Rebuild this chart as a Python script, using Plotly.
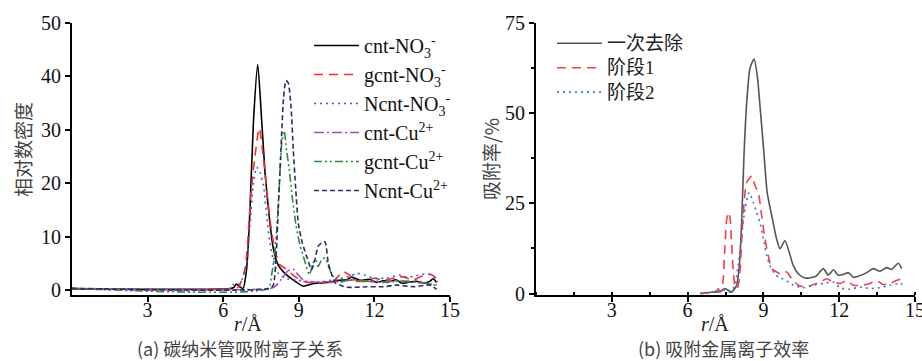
import plotly.graph_objects as go

W, H = 922, 361

# ---------------- Panel (a) data ----------------
cnt_no3_x = [0, 6.2, 6.4, 6.53, 6.65, 6.79, 6.93, 7.06, 7.2, 7.37, 7.53, 7.66, 7.82, 7.98, 8.18, 8.45, 8.77, 9.18, 9.5, 9.71, 9.9, 10.24, 10.6, 10.9, 11.1, 11.43, 11.8, 12.1, 12.35, 12.6, 12.85, 13.1, 13.4, 13.68, 13.95, 14.2, 14.33, 14.47]
cnt_no3_y = [0.2, 0.2, 0.4, 1.1, 0.6, 0.3, 4, 14.7, 31.5, 42.2, 31.5, 22, 14, 8, 4.7, 3.1, 1.9, 0.7, 1.1, 1.25, 1.3, 1.5, 1.8, 1.9, 2.4, 1.8, 2.0, 1.4, 1.7, 1.6, 1.9, 1.25, 1.5, 1.6, 1.3, 1.6, 2.1, 1.4]

gcnt_no3_x = [0, 6.3, 6.6, 6.87, 6.97, 7.1, 7.26, 7.43, 7.6, 7.73, 7.86, 8.05, 8.25, 8.45, 8.85, 9.2, 9.6, 10.0, 10.4, 10.75, 11.0, 11.3, 11.6, 12.0, 12.3, 12.6, 13.0, 13.26, 13.5, 13.8, 14.05, 14.25, 14.35, 14.5]
gcnt_no3_y = [0.2, 0.2, 0.5, 4, 9, 18, 25, 30.3, 24.7, 18.5, 13, 7.4, 4.7, 4.1, 2.5, 1.6, 1.3, 1.5, 1.8, 3.4, 2.8, 1.6, 1.8, 2.2, 1.9, 2.0, 2.5, 2.3, 1.8, 2.4, 2.8, 2.9, 2.6, 2.0]

ncnt_no3_x = [0, 6.2, 6.4, 6.67, 6.93, 7.06, 7.2, 7.33, 7.46, 7.6, 7.73, 7.86, 7.99, 8.19, 8.45, 9.0, 9.5, 10.0, 10.5, 11.0, 11.3, 11.6, 12.0, 12.5, 12.8, 13.0, 13.3, 13.6, 14.0, 14.3, 14.5]
ncnt_no3_y = [0.2, 0.2, 1.0, 1.2, 5, 12, 20, 23, 22, 19.5, 13.5, 8.6, 5.6, 3.1, 2.2, 1.8, 1.5, 1.6, 2.0, 2.5, 3.1, 2.8, 2.2, 2.2, 2.6, 2.8, 2.4, 2.6, 3.0, 2.8, 1.5]

cnt_cu_x = [0, 7.9, 8.12, 8.32, 8.58, 8.78, 8.98, 9.25, 9.44, 9.97, 10.6, 11.3, 11.8, 12.35, 12.8, 13.28, 13.94, 14.47]
cnt_cu_y = [0.3, 0.3, 0.9, 2.1, 3.6, 3.9, 2.8, 1.6, 1.6, 1.3, 1.6, 1.9, 1.6, 1.4, 1.7, 1.6, 1.3, 0.9]

gcnt_cu_x = [0, 7.79, 7.92, 8.03, 8.12, 8.23, 8.32, 8.42, 8.52, 8.61, 8.74, 8.88, 9.05, 9.18, 9.3, 9.42, 9.55, 9.66, 9.77, 9.9, 10.04, 10.17, 10.3, 10.45, 10.7, 11.0, 11.5, 12.0, 12.5, 13.0, 13.5, 14.0, 14.5]
gcnt_cu_y = [0.3, 0.3, 2.8, 6.3, 11, 19.8, 27.3, 29.8, 26, 23, 17.4, 12.4, 8.3, 6.3, 4.4, 2.8, 4.8, 5.7, 4.4, 5.6, 6.0, 4.5, 3.0, 2.0, 1.5, 1.9, 1.6, 1.7, 1.4, 1.7, 1.5, 1.3, 0.8]

ncnt_cu_x = [0, 7.86, 7.99, 8.1, 8.19, 8.28, 8.39, 8.49, 8.58, 8.69, 8.78, 8.88, 8.98, 9.14, 9.31, 9.51, 9.64, 9.77, 9.9, 10.04, 10.17, 10.3, 10.45, 10.7, 10.9, 11.3, 11.7, 12.35, 12.88, 13.54, 14.2, 14.47]
ncnt_cu_y = [0.3, 0.3, 0.9, 6.3, 15.7, 25, 35.7, 39.2, 38.8, 34.4, 26.3, 18.8, 12.5, 8.8, 6.3, 3.8, 5.7, 8.2, 8.8, 9.0, 5.0, 3.0, 1.3, 0.8, 0.5, 0.5, 0.6, 0.6, 0.9, 0.6, 0.9, 0.1]

# ---------------- Panel (b) data ----------------
once_x = [6.5, 6.75, 7.0, 7.28, 7.48, 7.74, 7.94, 8.05, 8.14, 8.23, 8.34, 8.47, 8.63, 8.76, 8.89, 9.02, 9.15, 9.33, 9.52, 9.66, 9.85, 10.02, 10.18, 10.38, 10.64, 10.97, 11.11, 11.37, 11.57, 11.77, 11.96, 12.16, 12.36, 12.56, 12.76, 13.09, 13.35, 13.61, 13.88, 14.07, 14.34, 14.47]
once_y = [0, 0.3, 0.4, 0.5, 1.4, 0.4, 2.3, 8, 20, 38, 53, 62.5, 65, 60.2, 50, 39, 28, 21.6, 15.2, 12.4, 14.7, 11.5, 7.8, 5.5, 4.3, 4.5, 5.0, 6.9, 5.1, 6.6, 5.1, 5.3, 5.8, 4.5, 4.8, 5.8, 6.9, 6.2, 7.2, 6.7, 8.4, 6.9]

stage1_x = [6.5, 6.8, 7.0, 7.2, 7.33, 7.41, 7.48, 7.55, 7.62, 7.68, 7.74, 7.87, 7.96, 8.05, 8.2, 8.34, 8.54, 8.67, 8.8, 8.93, 9.06, 9.19, 9.33, 9.52, 9.66, 9.92, 10.12, 10.38, 10.64, 10.91, 11.24, 11.5, 11.77, 12.03, 12.3, 12.56, 12.89, 13.22, 13.48, 13.74, 14.0, 14.27, 14.47]
stage1_y = [0, 0.2, 0.3, 1.0, 0.5, 4.1, 13.3, 20.7, 22.5, 21, 14, 2.3, 1.4, 4.1, 22, 30.8, 32.6, 29.9, 28, 21.6, 15.2, 10.6, 6.9, 6.0, 5.5, 6.0, 4.1, 2.3, 1.8, 2.3, 3.2, 4.1, 3.2, 2.8, 3.6, 2.3, 2.3, 2.8, 3.6, 2.5, 2.8, 3.6, 4.1]

stage2_x = [6.5, 7.0, 7.28, 7.5, 7.68, 7.87, 8.0, 8.14, 8.27, 8.44, 8.6, 8.73, 8.86, 9.0, 9.13, 9.26, 9.45, 9.66, 9.79, 10.18, 10.58, 10.97, 11.37, 11.77, 12.03, 12.43, 12.82, 13.22, 13.61, 14.0, 14.4, 14.5]
stage2_y = [0, 0.4, 1.4, 0.8, 0.4, 2.3, 7.8, 16, 23.4, 28, 25.3, 22.5, 19.8, 15.2, 10.6, 7.8, 5.5, 4.2, 4.1, 2.3, 1.6, 2.3, 2.8, 3.2, 1.6, 1.2, 1.8, 1.4, 1.6, 2.3, 2.8, 2.5]

# tick labels
x_ticks = [3, 6, 9, 12, 15]
ya_ticks = [0, 10, 20, 30, 40, 50]
yb_ticks = [0, 25, 50, 75]

FONT = "Liberation Serif, Times New Roman, Noto Sans CJK SC, serif"
CJK = "Noto Sans CJK SC, Liberation Serif"

def px_x(p):
    return p / W

def px_y(p):
    return 1 - p / H

fig = go.Figure()

LW = 1.6
left_series = [
    (cnt_no3_x, cnt_no3_y, "cnt-NO<sub>3</sub><sup>-</sup>", "#000000", "solid"),
    (gcnt_no3_x, gcnt_no3_y, "gcnt-NO<sub>3</sub><sup>-</sup>", "#ff2a2a", "9px,6px"),
    (ncnt_no3_x, ncnt_no3_y, "Ncnt-NO<sub>3</sub><sup>-</sup>", "#3366cc", "2px,4px"),
    (cnt_cu_x, cnt_cu_y, "cnt-Cu<sup>2+</sup>", "#a050b8", "10px,3px,2px,3px"),
    (gcnt_cu_x, gcnt_cu_y, "gcnt-Cu<sup>2+</sup>", "#2e8b3a", "8px,3px,2px,3px,2px,3px"),
    (ncnt_cu_x, ncnt_cu_y, "Ncnt-Cu<sup>2+</sup>", "#2e2e66", "5px,3px"),
]
for xs, ys, name, col, dash in left_series:
    fig.add_trace(go.Scatter(x=xs, y=ys, name=name, mode="lines",
                             line=dict(color=col, dash=dash, width=LW, shape="spline", smoothing=0.6),
                             xaxis="x", yaxis="y", legend="legend"))

right_series = [
    (once_x, once_y, "一次去除", "#555555", "solid"),
    (stage1_x, stage1_y, "阶段1", "#f2404f", "9px,6px"),
    (stage2_x, stage2_y, "阶段2", "#3a78d4", "2px,4px"),
]
for xs, ys, name, col, dash in right_series:
    fig.add_trace(go.Scatter(x=xs, y=ys, name='<span style="font-size:19px">' + name + '</span>',
                             mode="lines",
                             line=dict(color=col, dash=dash, width=LW, shape="spline", smoothing=0.6),
                             xaxis="x2", yaxis="y2", legend="legend2"))

axis_common = dict(showline=True, linecolor="#000", linewidth=2, ticks="outside",
                   ticklen=5, tickwidth=1.5, tickcolor="#000", showgrid=False, zeroline=False,
                   tickfont=dict(family=FONT, size=20, color="#111"), mirror=False,
                   automargin=False, ticklabeloverflow="allow")

ydom = [px_y(295), px_y(23)]

fig.update_layout(
    width=W, height=H, margin=dict(l=0, r=0, t=0, b=0, autoexpand=False),
    paper_bgcolor="white", plot_bgcolor="white",
    xaxis=dict(domain=[px_x(72), px_x(450)], range=[0, 15], tickvals=x_ticks, anchor="y",
               ticklabelstandoff=-9, **axis_common),
    yaxis=dict(domain=ydom, range=[-0.95, 50], tickvals=ya_ticks, anchor="x", **axis_common),
    xaxis2=dict(domain=[px_x(536), px_x(915)], range=[0, 15], tickvals=x_ticks, anchor="y2",
                ticklabelstandoff=-9,
                minor=dict(dtick=1.5, tick0=0, ticks="inside", ticklen=3, tickcolor="#000"), **axis_common),
    yaxis2=dict(domain=ydom, range=[-0.4, 75], tickvals=yb_ticks, anchor="x2",
                minor=dict(dtick=12.5, tick0=0, ticks="outside", ticklen=3, tickcolor="#000"), **axis_common),
    legend=dict(x=px_x(309), y=px_y(26), xanchor="left", yanchor="top", bgcolor="rgba(0,0,0,0)",
                font=dict(family=FONT, size=20, color="#111"), tracegroupgap=0, itemwidth=45,
                itemclick=False),
    legend2=dict(x=px_x(552), y=px_y(26), xanchor="left", yanchor="top", bgcolor="rgba(0,0,0,0)",
                 font=dict(family=FONT, size=16.5, color="#222"), tracegroupgap=0, itemwidth=45,
                 itemclick=False),
    showlegend=True,
)

def note(text, x, y, font, angle=0):
    return dict(text=text, x=px_x(x), y=px_y(y), textangle=angle, showarrow=False,
                xanchor="center", yanchor="middle", font=font, xref="paper", yref="paper")

ann = [
    note("相对数密度", 22, 150, dict(family=CJK, size=19, color="#444"), -90),
    note("吸附率/%", 490, 159, dict(family=CJK, size=19, color="#444"), -90),
    note("<i>r</i>/Å", 248, 324, dict(family=FONT, size=20, color="#222")),
    note("<i>r</i>/Å", 715, 324, dict(family=FONT, size=20, color="#222")),
    note("(a) 碳纳米管吸附离子关系", 240, 348, dict(family=CJK, size=18, color="#444")),
    note("(b) 吸附金属离子效率", 723, 348, dict(family=CJK, size=18, color="#444")),
]
fig.update_layout(annotations=ann)

fig.write_html("out.html")
